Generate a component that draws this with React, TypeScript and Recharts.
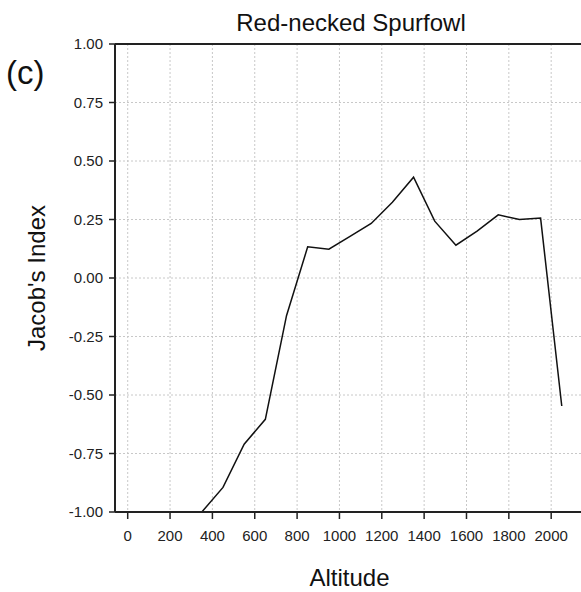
import React from "react";
import {
  LineChart,
  Line,
  XAxis,
  YAxis,
  CartesianGrid,
  ReferenceLine,
  Label,
} from "recharts";

const altitudes = [250, 350, 450, 550, 650, 750, 850, 950, 1050, 1150, 1250, 1350, 1450, 1550, 1650, 1750, 1850, 1950, 2050];
const jacobsIndex = [-1.0, -1.0, -0.895, -0.71, -0.604, -0.161, 0.133, 0.123, 0.178, 0.233, 0.324, 0.431, 0.243, 0.14, 0.2, 0.27, 0.25, 0.256, -0.547];
const xTicks = [0, 200, 400, 600, 800, 1000, 1200, 1400, 1600, 1800, 2000];
const yTicks = [-1, -0.75, -0.5, -0.25, 0, 0.25, 0.5, 0.75, 1];

const data = altitudes.map((a, i) => ({ alt: a, ji: jacobsIndex[i] }));

const FONT = "'Liberation Sans', Arial, Helvetica, sans-serif";

export default function App() {
  return (
    <div
      style={{
        position: "absolute",
        left: 0,
        top: 0,
        width: 581,
        height: 592,
        overflow: "hidden",
        background: "#fff",
        fontFamily: FONT,
      }}
    >
      <LineChart
        width={585}
        height={592}
        data={data}
        margin={{ top: 44, right: 1, bottom: 0, left: 0 }}
      >
        <CartesianGrid stroke="#c8c8c8" strokeDasharray="2 2" strokeWidth={1} />
        <XAxis
          type="number"
          dataKey="alt"
          domain={[-60, 2155]}
          ticks={xTicks}
          allowDataOverflow
          height={80}
          tickSize={7}
          tickMargin={11}
          axisLine={{ stroke: "#222", strokeWidth: 2 }}
          tickLine={{ stroke: "#222", strokeWidth: 1.5 }}
          tick={{ fill: "#222", fontSize: 15, fontFamily: FONT }}
          interval={0}
        >
          <Label
            value="Altitude"
            position="insideBottom"
            offset={6}
            style={{ fontSize: 24, fill: "#111", fontFamily: FONT }}
          />
        </XAxis>
        <YAxis
          type="number"
          domain={[-1, 1]}
          ticks={yTicks}
          width={115}
          tickSize={6}
          tickMargin={6}
          interval={0}
          tickFormatter={(v: number) => v.toFixed(2)}
          axisLine={{ stroke: "#222", strokeWidth: 2 }}
          tickLine={{ stroke: "#222", strokeWidth: 1.5 }}
          tick={{ fill: "#222", fontSize: 15, fontFamily: FONT }}
        >
          <Label
            value="Jacob's Index"
            angle={-90}
            position="insideLeft"
            offset={36}
            style={{ fontSize: 24, fill: "#111", fontFamily: FONT, textAnchor: "middle" }}
          />
        </YAxis>
        <ReferenceLine y={1} stroke="#222" strokeWidth={2} />
        <Line
          type="linear"
          dataKey="ji"
          stroke="#111"
          strokeWidth={1.5}
          dot={false}
          isAnimationActive={false}
        />
      </LineChart>
      <svg
        width={581}
        height={592}
        style={{ position: "absolute", left: 0, top: 0, pointerEvents: "none" }}
      >
        <text x={351} y={31} textAnchor="middle" fontSize={24} fill="#111" fontFamily={FONT}>
          Red-necked Spurfowl
        </text>
        <text x={6} y={84} fontSize={33} fill="#111" fontFamily={FONT}>
          (c)
        </text>
      </svg>
    </div>
  );
}
